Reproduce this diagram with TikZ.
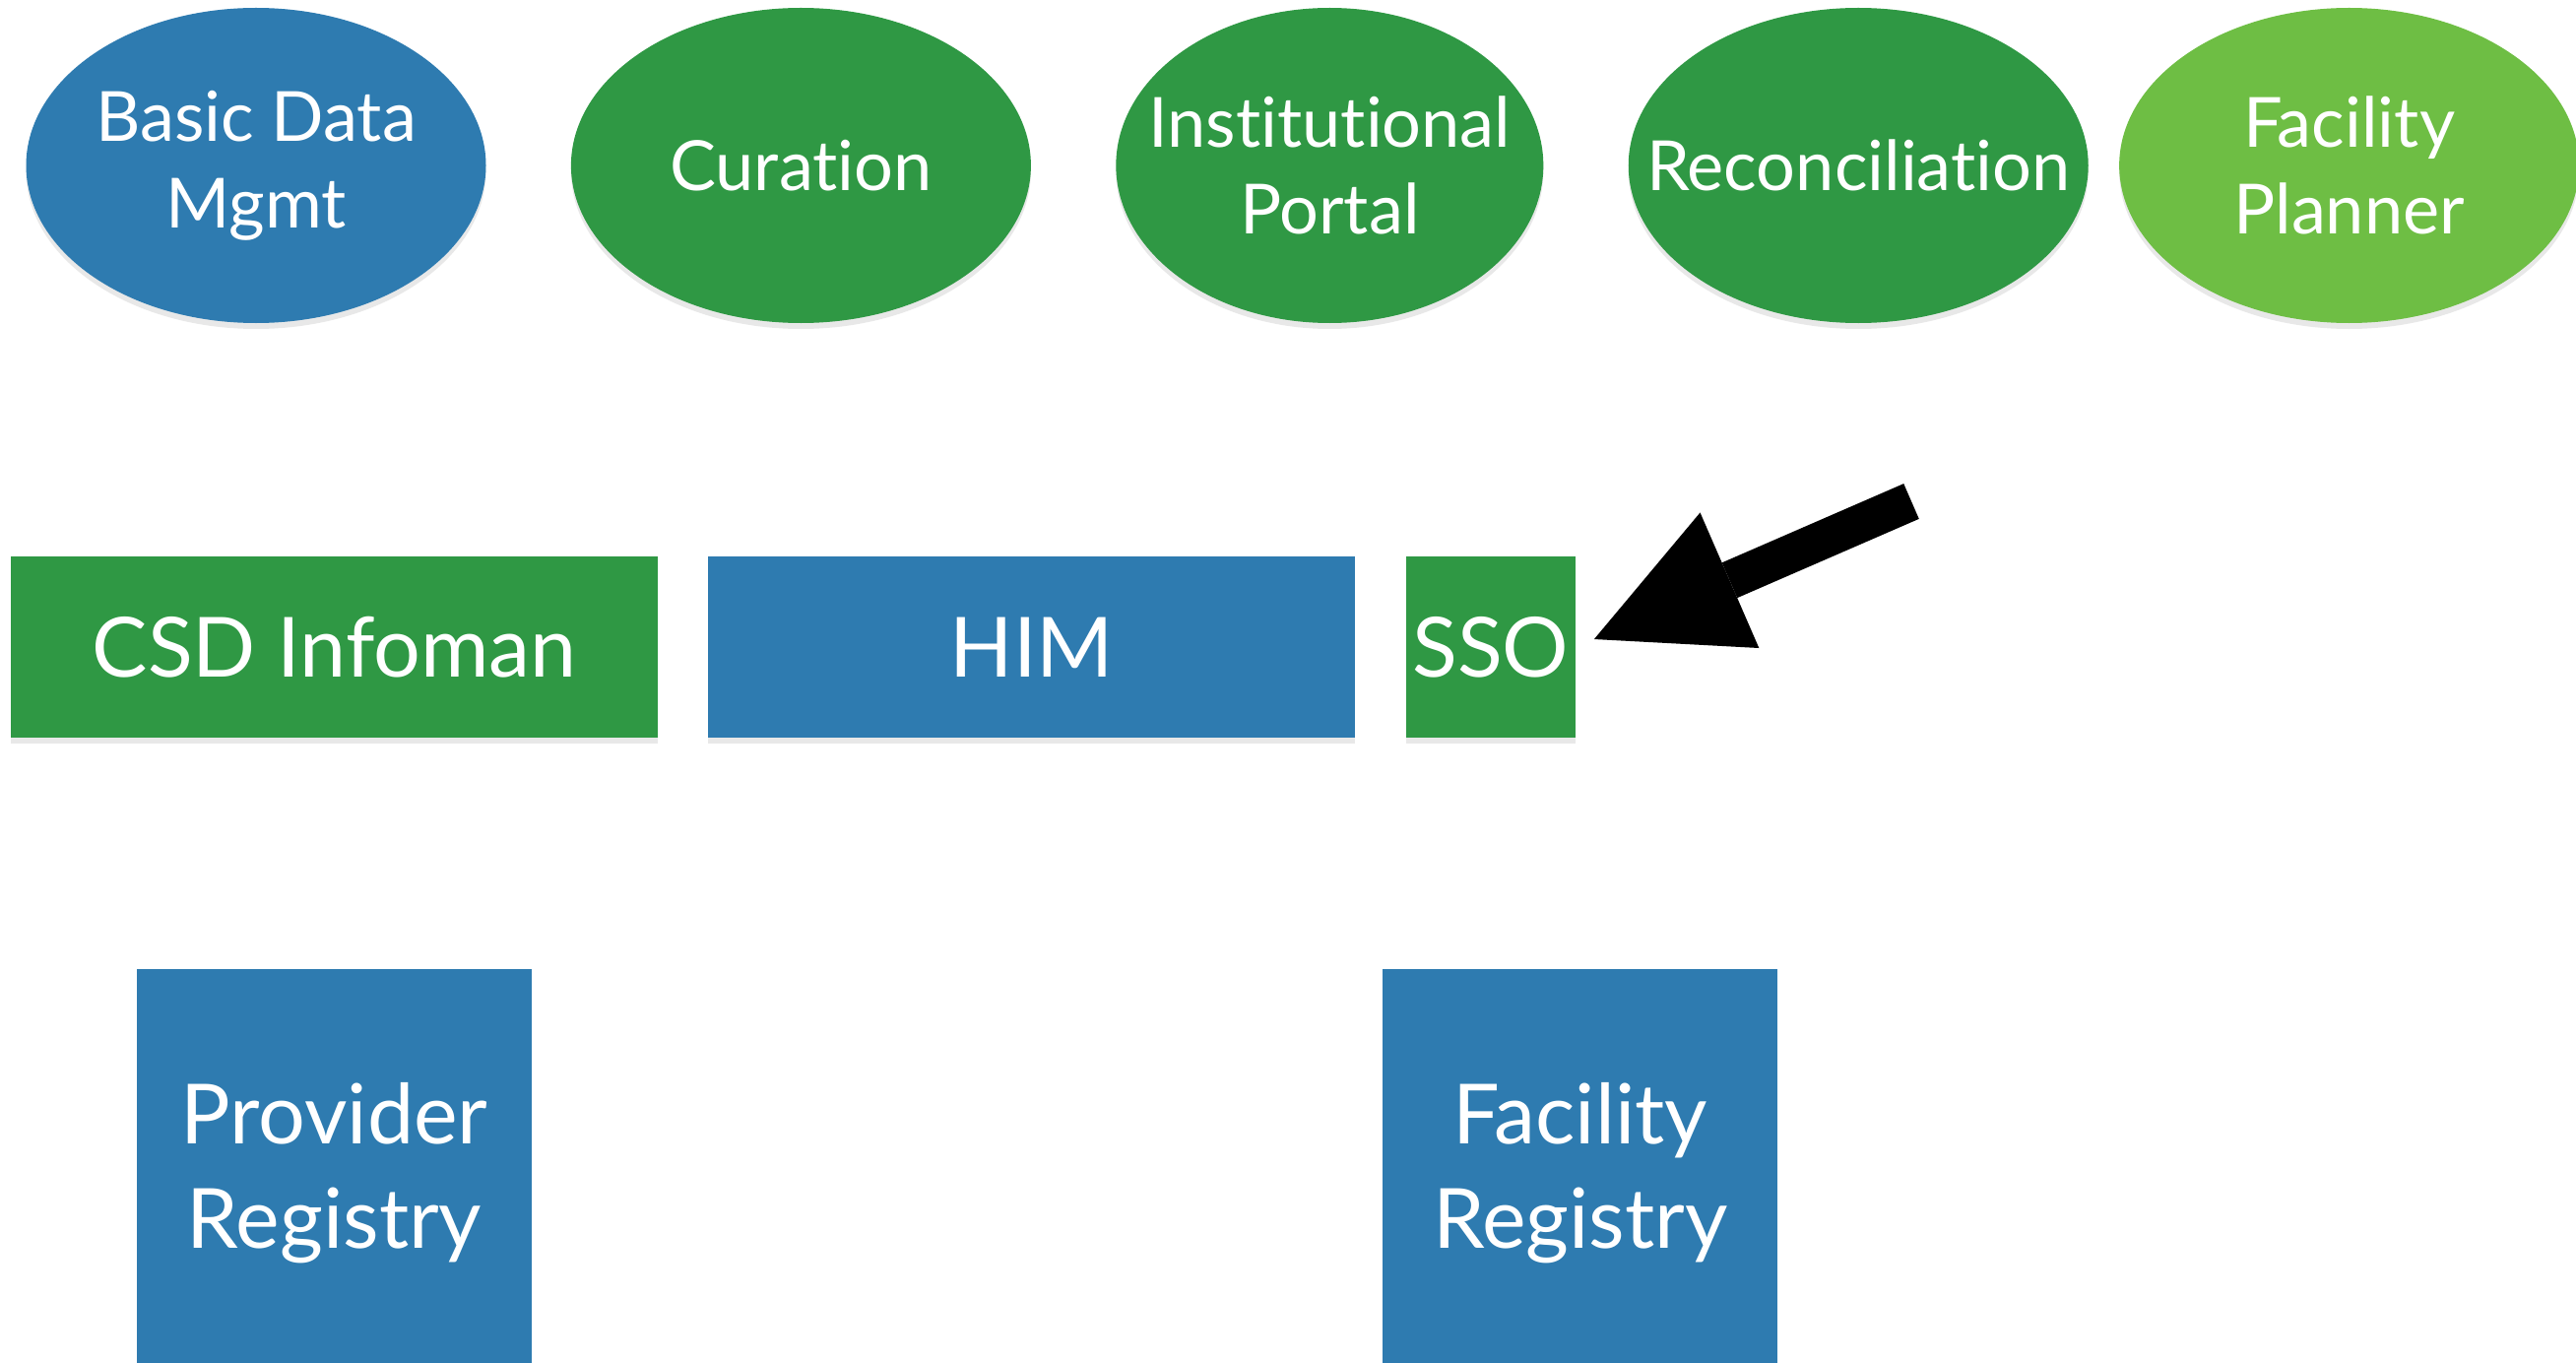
\documentclass[tikz,border=0pt]{standalone}
\usepackage{fontspec}
\setmainfont{Lato}[Ligatures={NoCommon}]
\usepackage{tikz}
\usetikzlibrary{arrows.meta, positioning, shapes.geometric, shadows}

\definecolor{compblue}{RGB}{46,123,176}
\definecolor{compgreen}{RGB}{47,152,68}
\definecolor{complime}{RGB}{110,190,68}

\begin{document}
\begin{tikzpicture}[
    app/.style={ellipse, minimum width=4.67cm, minimum height=3.2cm, inner xsep=-0.6cm, inner ysep=0pt, align=center, text=white, font=\fontsize{20}{25}\selectfont, drop shadow={opacity=0.18, shadow xshift=0pt, shadow yshift=-0.06cm}},
    svc/.style={rectangle, minimum height=1.84cm, inner sep=0pt, align=center, text=white, font=\fontsize{24}{30}\selectfont, drop shadow={opacity=0.18, shadow xshift=0pt, shadow yshift=-0.06cm}},
    reg/.style={svc, minimum width=4.01cm, minimum height=4.15cm},
    pointer/.style={-{Triangle[length=1.5cm, width=1.5cm, line width=0pt]}, line width=3.9mm, shorten >=0.2cm},
    ]
    \useasboundingbox (0,0) rectangle (26.16,-13.83);

    % Applications (top row)
    \node[app, fill=compblue] (bdm) at (2.60,-1.68) {Basic Data\\Mgmt};
    \node[app, fill=compgreen, right=0.85cm of bdm] (cur) {Curation};
    \node[app, fill=compgreen, minimum width=4.34cm, right=0.85cm of cur] (inst) {Institutional\\Portal};
    \node[app, fill=compgreen, right=0.85cm of inst] (rec) {Reconciliation};
    \node[app, fill=complime, right=0.30cm of rec] (fp) {Facility\\Planner};

    % Interoperability layer (middle row)
    \node[svc, fill=compgreen, minimum width=6.57cm] (csd) at (3.395,-6.57) {CSD Infoman};
    \node[svc, fill=compblue, minimum width=6.57cm, right=0.5cm of csd] (him) {HIM};
    \node[svc, fill=compgreen, minimum width=1.72cm, right=0.5cm of him] (sso) {SSO};

    % Registries (bottom row)
    \node[reg, fill=compblue, anchor=north] (prov) at (3.395,-9.83) {Provider\\Registry};
    \node[reg, fill=compblue, right=8.63cm of prov] (fac) {Facility\\Registry};

    % Arrow pointing at SSO
    \coordinate (tail) at (19.41,-5.09);
    \draw[pointer] (tail) -- (sso.east);
\end{tikzpicture}
\end{document}
